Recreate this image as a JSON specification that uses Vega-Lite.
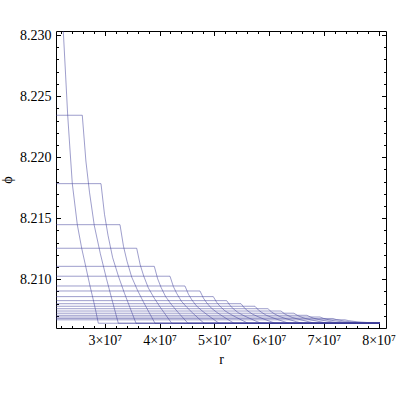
{
  "$schema": "https://vega.github.io/schema/vega-lite/v6.json",
  "width": 330,
  "height": 297,
  "autosize": {"type": "none"},
  "padding": {"left": 56, "top": 31, "right": 14, "bottom": 72},
  "background": "white",
  "config": {"view": {"stroke": "black", "strokeWidth": 1}},
  "data": {"values": [
    {"c":1,"r":22128000,"p":8.23246},{"c":1,"r":22420000,"p":8.23030},{"c":1,"r":22840000,"p":8.22673},{"c":1,"r":23224000,"p":8.22343},{"c":1,"r":23644000,"p":8.22059},{"c":1,"r":24064000,"p":8.21783},{"c":1,"r":24429000,"p":8.21649},{"c":1,"r":24977000,"p":8.21447},{"c":1,"r":25781000,"p":8.21254},{"c":1,"r":26511000,"p":8.21106},{"c":1,"r":27297000,"p":8.20945},{"c":1,"r":27900000,"p":8.20831},{"c":1,"r":28393000,"p":8.20732},{"c":1,"r":28813000,"p":8.2064},{"c":1,"r":80265000,"p":8.2064},
    {"c":2,"r":21000000,"p":8.22343},{"c":2,"r":25890000,"p":8.22343},{"c":2,"r":26548000,"p":8.21968},{"c":2,"r":27205000,"p":8.21713},{"c":2,"r":28080000,"p":8.21440},{"c":2,"r":29178000,"p":8.21211},{"c":2,"r":30296000,"p":8.21006},{"c":2,"r":31348000,"p":8.20827},{"c":2,"r":32466000,"p":8.2064},{"c":2,"r":80265000,"p":8.2064},
    {"c":3,"r":21000000,"p":8.21783},{"c":3,"r":29306000,"p":8.21783},{"c":3,"r":29945000,"p":8.21532},{"c":3,"r":30585000,"p":8.21360},{"c":3,"r":31435000,"p":8.21177},{"c":3,"r":32503000,"p":8.21023},{"c":3,"r":33589000,"p":8.20886},{"c":3,"r":34612000,"p":8.20766},{"c":3,"r":35699000,"p":8.2064},{"c":3,"r":80265000,"p":8.2064},
    {"c":4,"r":21000000,"p":8.21447},{"c":4,"r":32776000,"p":8.21447},{"c":4,"r":33415000,"p":8.21270},{"c":4,"r":34055000,"p":8.21148},{"c":4,"r":34905000,"p":8.21019},{"c":4,"r":35973000,"p":8.20910},{"c":4,"r":37059000,"p":8.20814},{"c":4,"r":38082000,"p":8.20729},{"c":4,"r":39169000,"p":8.2064},{"c":4,"r":80265000,"p":8.2064},
    {"c":5,"r":21000000,"p":8.21254},{"c":5,"r":35826000,"p":8.21254},{"c":5,"r":36465000,"p":8.21119},{"c":5,"r":37105000,"p":8.21027},{"c":5,"r":37955000,"p":8.20929},{"c":5,"r":39023000,"p":8.20846},{"c":5,"r":40109000,"p":8.20772},{"c":5,"r":41132000,"p":8.20708},{"c":5,"r":42219000,"p":8.2064},{"c":5,"r":80265000,"p":8.2064},
    {"c":6,"r":21000000,"p":8.21106},{"c":6,"r":39041000,"p":8.21106},{"c":6,"r":39656000,"p":8.21004},{"c":6,"r":40272000,"p":8.20934},{"c":6,"r":41091000,"p":8.20859},{"c":6,"r":42119000,"p":8.20796},{"c":6,"r":43165000,"p":8.20740},{"c":6,"r":44150000,"p":8.20691},{"c":6,"r":45196000,"p":8.2064},{"c":6,"r":80265000,"p":8.2064},
    {"c":7,"r":21000000,"p":8.21025},{"c":7,"r":41909000,"p":8.21025},{"c":7,"r":42530000,"p":8.20940},{"c":7,"r":43151000,"p":8.20883},{"c":7,"r":43977000,"p":8.20821},{"c":7,"r":45014000,"p":8.20769},{"c":7,"r":46070000,"p":8.20723},{"c":7,"r":47063000,"p":8.20682},{"c":7,"r":48119000,"p":8.2064},{"c":7,"r":80265000,"p":8.2064},
    {"c":8,"r":21000000,"p":8.20945},{"c":8,"r":44648000,"p":8.20945},{"c":8,"r":45269000,"p":8.20878},{"c":8,"r":45890000,"p":8.20832},{"c":8,"r":46716000,"p":8.20783},{"c":8,"r":47753000,"p":8.20742},{"c":8,"r":48809000,"p":8.20706},{"c":8,"r":49802000,"p":8.20674},{"c":8,"r":50858000,"p":8.2064},{"c":8,"r":80265000,"p":8.2064},
    {"c":9,"r":21000000,"p":8.20904},{"c":9,"r":47388000,"p":8.20904},{"c":9,"r":48009000,"p":8.20846},{"c":9,"r":48630000,"p":8.20806},{"c":9,"r":49456000,"p":8.20764},{"c":9,"r":50493000,"p":8.20728},{"c":9,"r":51549000,"p":8.20697},{"c":9,"r":52542000,"p":8.20669},{"c":9,"r":53598000,"p":8.2064},{"c":9,"r":80265000,"p":8.2064},
    {"c":10,"r":21000000,"p":8.20858},{"c":10,"r":49817000,"p":8.20858},{"c":10,"r":50451000,"p":8.20810},{"c":10,"r":51085000,"p":8.20777},{"c":10,"r":51928000,"p":8.20742},{"c":10,"r":52986000,"p":8.20713},{"c":10,"r":54063000,"p":8.20687},{"c":10,"r":55078000,"p":8.20664},{"c":10,"r":56155000,"p":8.2064},{"c":10,"r":80265000,"p":8.2064},
    {"c":11,"r":21000000,"p":8.20825},{"c":11,"r":52265000,"p":8.20825},{"c":11,"r":52891000,"p":8.20784},{"c":11,"r":53518000,"p":8.20757},{"c":11,"r":54351000,"p":8.20727},{"c":11,"r":55398000,"p":8.20702},{"c":11,"r":56463000,"p":8.20680},{"c":11,"r":57465000,"p":8.20660},{"c":11,"r":58530000,"p":8.2064},{"c":11,"r":80265000,"p":8.2064},
    {"c":12,"r":21000000,"p":8.20800},{"c":12,"r":54877000,"p":8.20800},{"c":12,"r":55498000,"p":8.20765},{"c":12,"r":56119000,"p":8.20741},{"c":12,"r":56945000,"p":8.20715},{"c":12,"r":57982000,"p":8.20694},{"c":12,"r":59038000,"p":8.20674},{"c":12,"r":60031000,"p":8.20658},{"c":12,"r":61087000,"p":8.2064},{"c":12,"r":80265000,"p":8.2064},
    {"c":13,"r":21000000,"p":8.20779},{"c":13,"r":57434000,"p":8.20779},{"c":13,"r":58055000,"p":8.20748},{"c":13,"r":58676000,"p":8.20728},{"c":13,"r":59502000,"p":8.20705},{"c":13,"r":60539000,"p":8.20687},{"c":13,"r":61595000,"p":8.20670},{"c":13,"r":62588000,"p":8.20655},{"c":13,"r":63644000,"p":8.2064},{"c":13,"r":80265000,"p":8.2064},
    {"c":14,"r":21000000,"p":8.20759},{"c":14,"r":59808000,"p":8.20759},{"c":14,"r":60429000,"p":8.20733},{"c":14,"r":61050000,"p":8.20715},{"c":14,"r":61876000,"p":8.20696},{"c":14,"r":62913000,"p":8.20680},{"c":14,"r":63969000,"p":8.20666},{"c":14,"r":64962000,"p":8.20653},{"c":14,"r":66018000,"p":8.2064},{"c":14,"r":80265000,"p":8.2064},
    {"c":15,"r":21000000,"p":8.20740},{"c":15,"r":62183000,"p":8.20740},{"c":15,"r":62804000,"p":8.20718},{"c":15,"r":63425000,"p":8.20703},{"c":15,"r":64251000,"p":8.20687},{"c":15,"r":65288000,"p":8.20674},{"c":15,"r":66344000,"p":8.20662},{"c":15,"r":67337000,"p":8.20651},{"c":15,"r":68393000,"p":8.2064},{"c":15,"r":80265000,"p":8.2064},
    {"c":16,"r":21000000,"p":8.20722},{"c":16,"r":64557000,"p":8.20722},{"c":16,"r":65178000,"p":8.20704},{"c":16,"r":65799000,"p":8.20692},{"c":16,"r":66625000,"p":8.20679},{"c":16,"r":67662000,"p":8.20667},{"c":16,"r":68718000,"p":8.20658},{"c":16,"r":69711000,"p":8.20649},{"c":16,"r":70767000,"p":8.2064},{"c":16,"r":80265000,"p":8.2064},
    {"c":17,"r":21000000,"p":8.20705},{"c":17,"r":66932000,"p":8.20705},{"c":17,"r":67553000,"p":8.20691},{"c":17,"r":68174000,"p":8.20681},{"c":17,"r":69000000,"p":8.20671},{"c":17,"r":70037000,"p":8.20662},{"c":17,"r":71093000,"p":8.20654},{"c":17,"r":72086000,"p":8.20647},{"c":17,"r":73142000,"p":8.2064},{"c":17,"r":80265000,"p":8.2064},
    {"c":18,"r":21000000,"p":8.20691},{"c":18,"r":69306000,"p":8.20691},{"c":18,"r":69927000,"p":8.20680},{"c":18,"r":70548000,"p":8.20672},{"c":18,"r":71374000,"p":8.20664},{"c":18,"r":72411000,"p":8.20657},{"c":18,"r":73467000,"p":8.20651},{"c":18,"r":74460000,"p":8.20646},{"c":18,"r":75516000,"p":8.2064},{"c":18,"r":80265000,"p":8.2064},
    {"c":19,"r":21000000,"p":8.20679},{"c":19,"r":71680000,"p":8.20679},{"c":19,"r":72283000,"p":8.20670},{"c":19,"r":72886000,"p":8.20665},{"c":19,"r":73687000,"p":8.20658},{"c":19,"r":74694000,"p":8.20653},{"c":19,"r":75719000,"p":8.20648},{"c":19,"r":76683000,"p":8.20644},{"c":19,"r":77708000,"p":8.2064},{"c":19,"r":80265000,"p":8.2064},
    {"c":20,"r":21000000,"p":8.20668},{"c":20,"r":73872000,"p":8.20668},{"c":20,"r":74475000,"p":8.20662},{"c":20,"r":75078000,"p":8.20658},{"c":20,"r":75879000,"p":8.20653},{"c":20,"r":76886000,"p":8.20649},{"c":20,"r":77911000,"p":8.20646},{"c":20,"r":78875000,"p":8.20643},{"c":20,"r":79900000,"p":8.2064},{"c":20,"r":80265000,"p":8.2064}
  ]},
  "resolve": {"axis": {"x": "independent", "y": "independent"}},
  "layer": [
    {
      "mark": {"type": "line", "stroke": "#3d3d99", "strokeOpacity": 0.5, "strokeWidth": 1, "clip": true},
      "encoding": {
        "x": {"field": "r", "type": "quantitative",
              "scale": {"domain": [21087000, 81361000], "nice": false, "zero": false},
              "axis": {"orient": "bottom", "values": [30000000, 40000000, 50000000, 60000000, 70000000, 80000000],
                       "labelExpr": "(datum.value / 1e7) + '×10⁷'", "ticks": false, "domain": false, "grid": false,
                       "labelFont": "Liberation Serif", "labelFontSize": 14, "labelColor": "black", "labelPadding": 5,
                       "title": "r", "titleFont": "Liberation Serif", "titleFontSize": 14, "titleFontWeight": "normal", "titleColor": "black", "titlePadding": 5}},
        "y": {"field": "p", "type": "quantitative",
              "scale": {"domain": [8.20601, 8.23033], "nice": false, "zero": false},
              "axis": {"orient": "left", "values": [8.21, 8.215, 8.22, 8.225, 8.23], "format": ".3f",
                       "ticks": false, "domain": false, "grid": false,
                       "labelFont": "Liberation Serif", "labelFontSize": 14, "labelColor": "black", "labelPadding": 5,
                       "title": "ϕ", "titleFont": "Liberation Serif", "titleFontSize": 14, "titleFontWeight": "normal", "titleColor": "black", "titlePadding": 5}},
        "detail": {"field": "c", "type": "nominal"}
      }
    },
    {
      "mark": {"type": "line", "strokeOpacity": 0},
      "encoding": {
        "x": {"field": "r", "type": "quantitative",
              "axis": {"orient": "bottom", "values": [30000000, 40000000, 50000000, 60000000, 70000000, 80000000],
                       "labels": false, "domain": false, "grid": false, "ticks": true, "tickSize": -4.5, "tickColor": "black", "tickWidth": 1, "title": null}},
        "y": {"field": "p", "type": "quantitative",
              "axis": {"orient": "left", "values": [8.21, 8.215, 8.22, 8.225, 8.23],
                       "labels": false, "domain": false, "grid": false, "ticks": true, "tickSize": -4.5, "tickColor": "black", "tickWidth": 1, "title": null}},
        "detail": {"field": "c", "type": "nominal"}
      }
    },
    {
      "mark": {"type": "line", "strokeOpacity": 0},
      "encoding": {
        "x": {"field": "r", "type": "quantitative",
              "axis": {"orient": "bottom", "values": [22000000, 24000000, 26000000, 28000000, 32000000, 34000000, 36000000, 38000000, 42000000, 44000000, 46000000, 48000000, 52000000, 54000000, 56000000, 58000000, 62000000, 64000000, 66000000, 68000000, 72000000, 74000000, 76000000, 78000000],
                       "labels": false, "domain": false, "grid": false, "ticks": true, "tickSize": -2.5, "tickColor": "black", "tickWidth": 1, "title": null}},
        "y": {"field": "p", "type": "quantitative",
              "axis": {"orient": "left", "values": [8.207, 8.208, 8.209, 8.211, 8.212, 8.213, 8.214, 8.216, 8.217, 8.218, 8.219, 8.221, 8.222, 8.223, 8.224, 8.226, 8.227, 8.228, 8.229],
                       "labels": false, "domain": false, "grid": false, "ticks": true, "tickSize": -2.5, "tickColor": "black", "tickWidth": 1, "title": null}},
        "detail": {"field": "c", "type": "nominal"}
      }
    },
    {
      "mark": {"type": "line", "strokeOpacity": 0},
      "encoding": {
        "x": {"field": "r", "type": "quantitative",
              "axis": {"orient": "top", "values": [30000000, 40000000, 50000000, 60000000, 70000000, 80000000],
                       "labels": false, "domain": false, "grid": false, "ticks": true, "tickSize": -4.5, "tickColor": "black", "tickWidth": 1, "title": null}},
        "y": {"field": "p", "type": "quantitative",
              "axis": {"orient": "right", "values": [8.21, 8.215, 8.22, 8.225, 8.23],
                       "labels": false, "domain": false, "grid": false, "ticks": true, "tickSize": -4.5, "tickColor": "black", "tickWidth": 1, "title": null}},
        "detail": {"field": "c", "type": "nominal"}
      }
    },
    {
      "mark": {"type": "line", "strokeOpacity": 0},
      "encoding": {
        "x": {"field": "r", "type": "quantitative",
              "axis": {"orient": "top", "values": [22000000, 24000000, 26000000, 28000000, 32000000, 34000000, 36000000, 38000000, 42000000, 44000000, 46000000, 48000000, 52000000, 54000000, 56000000, 58000000, 62000000, 64000000, 66000000, 68000000, 72000000, 74000000, 76000000, 78000000],
                       "labels": false, "domain": false, "grid": false, "ticks": true, "tickSize": -2.5, "tickColor": "black", "tickWidth": 1, "title": null}},
        "y": {"field": "p", "type": "quantitative",
              "axis": {"orient": "right", "values": [8.207, 8.208, 8.209, 8.211, 8.212, 8.213, 8.214, 8.216, 8.217, 8.218, 8.219, 8.221, 8.222, 8.223, 8.224, 8.226, 8.227, 8.228, 8.229],
                       "labels": false, "domain": false, "grid": false, "ticks": true, "tickSize": -2.5, "tickColor": "black", "tickWidth": 1, "title": null}},
        "detail": {"field": "c", "type": "nominal"}
      }
    }
  ]
}
